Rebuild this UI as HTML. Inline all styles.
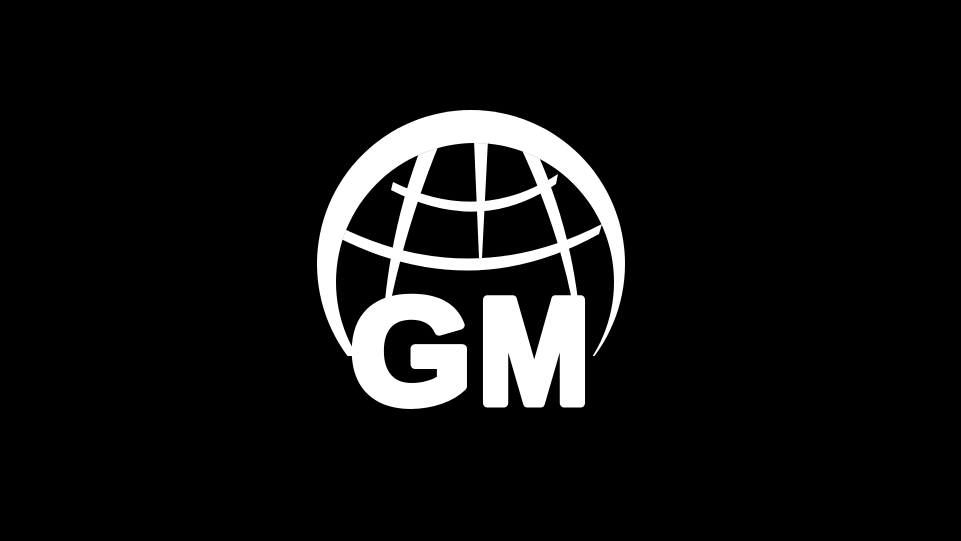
<!DOCTYPE html>
<html><head><meta charset="utf-8"><style>
html,body{margin:0;padding:0;background:#000;width:961px;height:541px;overflow:hidden}
</style></head><body>
<svg width="961" height="541" viewBox="0 0 961 541">
<rect width="961" height="541" fill="#000"/>
<defs><clipPath id="top"><rect x="0" y="0" width="961" height="356"/></clipPath>
<clipPath id="globe"><circle cx="475" cy="282" r="139"/></clipPath></defs>
<g clip-path="url(#top)">
<circle cx="471" cy="264" r="154" fill="#fff"/>
<circle cx="475" cy="282" r="139" fill="#000"/>
</g>
<g fill="#fff" clip-path="url(#globe)">
<path d="M393,182 Q480,225 558,174 L556,184 Q480,236 391,190 Z"/>
<path d="M338,226 Q470,292 602,224 L599,234 Q470,306 335,236 Z"/>
<path d="M474,140 L488,140 L482,258 L479,258 Z"/>
<path d="M424,140 L440,142 Q408,220 391,300 L385,300 Q394,215 424,140 Z"/>
<path d="M520,146 L535,148 Q568,220 578,300 L572,300 Q556,222 520,146 Z"/>
</g>
<g font-family="Liberation Sans, sans-serif" font-weight="bold" font-size="150" fill="#fff" stroke="#fff" stroke-width="9" stroke-linejoin="round">
<text x="350" y="403" textLength="122" lengthAdjust="spacingAndGlyphs">G</text>
<text x="478" y="403" textLength="112" lengthAdjust="spacingAndGlyphs">M</text>
</g>
</svg>
</body></html>
